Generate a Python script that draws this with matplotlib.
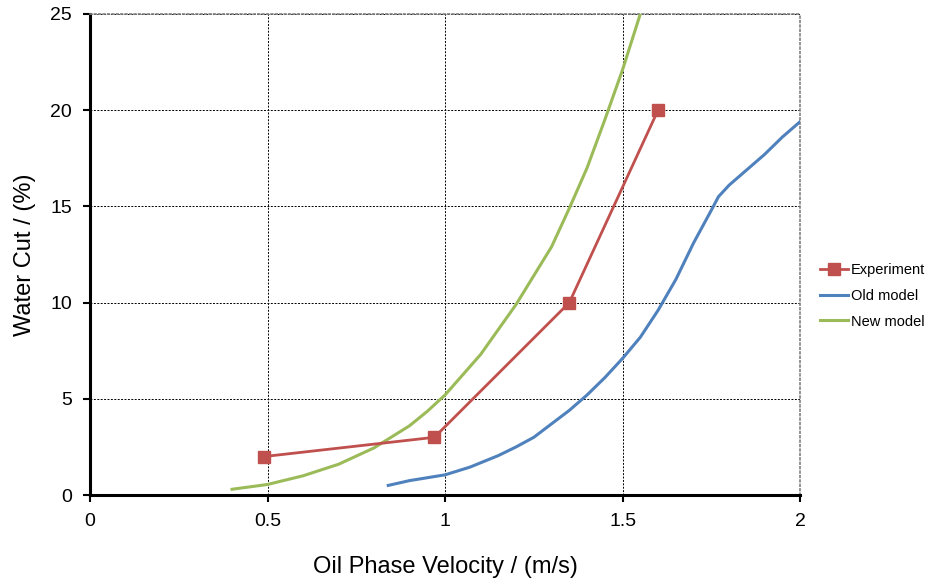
import matplotlib.pyplot as plt

plt.rcParams['font.family'] = ['Liberation Sans', 'DejaVu Sans']

# Experimental data
exp_v = [0.49, 0.97, 1.35, 1.6]
exp_wc = [2, 3, 10, 20]

# Old model curve
old_v = [0.84, 0.9, 1.0, 1.07, 1.15, 1.2, 1.25, 1.3, 1.35, 1.4, 1.45, 1.5,
         1.55, 1.6, 1.65, 1.7, 1.75, 1.77, 1.8, 1.85, 1.9, 1.95, 2.0]
old_wc = [0.5, 0.75, 1.05, 1.45, 2.05, 2.5, 3.0, 3.7, 4.4, 5.2, 6.1, 7.1,
          8.2, 9.6, 11.2, 13.1, 14.8, 15.5, 16.1, 16.9, 17.7, 18.6, 19.4]

# New model curve
new_v = [0.40, 0.5, 0.6, 0.7, 0.8, 0.9, 0.95, 1.0, 1.1, 1.2, 1.3, 1.35,
         1.4, 1.45, 1.5, 1.55]
new_wc = [0.3, 0.55, 1.0, 1.6, 2.45, 3.6, 4.35, 5.2, 7.3, 9.9, 12.9, 14.9,
          17.0, 19.5, 22.1, 25.0]

fig = plt.figure(figsize=(9.27, 5.79), dpi=100)
ax = fig.add_axes([0.0971, 0.145, 0.766, 0.831])

ax.plot(exp_v, exp_wc, color='#C0504D', lw=2, marker='s', ms=8,
        label='Experiment', zorder=4)
ax.plot(old_v, old_wc, color='#4F81BD', lw=2.2, label='Old model', zorder=3)
ax.plot(new_v, new_wc, color='#9BBB59', lw=2.2, label='New model', zorder=3)

ax.set_xlim(0, 2)
ax.set_ylim(0, 25)
ax.set_xticks([0, 0.5, 1, 1.5, 2])
ax.set_xticklabels(['0', '0.5', '1', '1.5', '2'])
ax.set_yticks([0, 5, 10, 15, 20, 25])

ax.grid(True, color='black', linestyle=(0, (2, 1.5)), linewidth=0.7)
ax.set_axisbelow(True)

for side in ['top', 'right']:
    ax.spines[side].set_color('#808080')
    ax.spines[side].set_linestyle(':')
    ax.spines[side].set_linewidth(1.2)
for side in ['left', 'bottom']:
    ax.spines[side].set_linewidth(2.2)
    ax.spines[side].set_color('black')

ax.tick_params(axis='both', direction='out', length=5, width=1.5,
               labelsize=14, pad=8)

ax.set_xlabel('Oil Phase Velocity / (m/s)', fontsize=17, labelpad=19)
ax.set_ylabel('Water Cut / (%)', fontsize=17, labelpad=10)

ax.legend(loc='center left', bbox_to_anchor=(1.028, 0.414), frameon=False,
          fontsize=10.5, handlelength=1.9, handletextpad=0.2, labelspacing=0.8,
          borderpad=0, borderaxespad=0)

fig.savefig('out.png', dpi=100)
